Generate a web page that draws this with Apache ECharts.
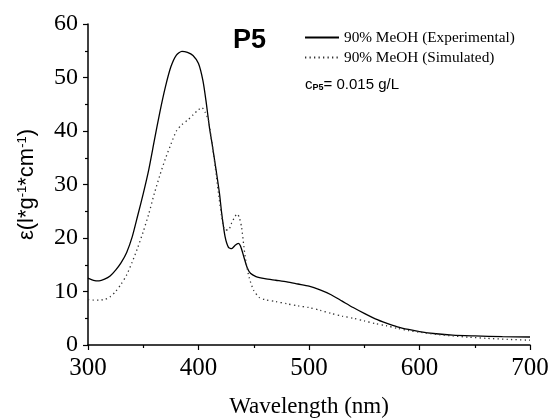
<!DOCTYPE html>
<html><head><meta charset="utf-8">
<script src="https://cdn.jsdelivr.net/npm/echarts@6/dist/echarts.min.js"></script>
<style>html,body{margin:0;padding:0;background:#fff}#c{width:553px;height:419px}</style>
</head><body><div id="c"></div>
<script>
const seriesNames = ['90% MeOH (Experimental)', '90% MeOH (Simulated)'];
const expX = [300,305,310,315,320,325,330,335,340,345,350,355,360,365,370,375,380,385,390,395,400,404,407,410,412,416,419,421,424,427,430,433,436,438,441,444,447,452,460,470,480,490,500,510,520,530,540,550,560,570,580,590,600,615,630,650,675,700];
const expY = [12.5,12.1,12.0,12.3,12.9,14.0,15.4,17.3,20.2,24.2,28.3,32.8,38.2,43.5,48.2,52.0,54.2,54.9,54.7,54.1,52.6,49.4,45.3,40.5,38.0,32.6,28.3,24.6,20.3,18.3,18.0,18.6,19.0,18.5,16.5,14.5,13.4,12.8,12.4,12.1,11.8,11.4,11.0,10.3,9.4,8.2,7.0,5.9,4.9,4.1,3.4,2.9,2.5,2.1,1.85,1.7,1.55,1.5];
const simX = [300,305,310,315,320,325,330,335,340,345,350,355,360,365,370,375,380,385,390,395,400,403,406,409,412,415,418,421,424,427,430,433,435,437,439,441,443,446,450,455,460,470,480,490,500,510,520,530,540,550,560,570,580,590,600,615,630,645,660,680,700];
const simY = [8.5,8.4,8.4,8.5,9.0,10.0,11.4,13.1,15.5,18.2,21.2,24.5,28.3,31.7,34.8,37.5,40.0,41.2,42.0,43.0,44.0,44.4,43.5,42.0,38.0,33.5,28.5,24.0,21.5,21.5,22.8,24.0,24.5,23.8,22.0,18.5,15.5,12.5,10.2,8.9,8.5,8.1,7.7,7.3,7.0,6.5,5.9,5.4,5.0,4.5,4.0,3.6,3.1,2.7,2.4,2.0,1.7,1.45,1.25,1.05,0.9];
const xTicks = [300,400,500,600,700];
const yTicks = [0,10,20,30,40,50,60];

const expData = expX.map((x,i)=>[x,expY[i]]);
const simData = simX.map((x,i)=>[x,simY[i]]);
const serif = '"Liberation Serif", "DejaVu Serif", serif';
const sans = '"Liberation Sans", Arial, sans-serif';

const chart = echarts.init(document.getElementById('c'));
chart.setOption({
  animation: false,
  backgroundColor: '#fff',
  grid: {left: 88, right: 23, top: 24, bottom: 74, containLabel: false, outerBoundsMode: 'none'},
  xAxis: {
    type: 'value', min: xTicks[0], max: xTicks[xTicks.length-1], interval: 100,
    name: 'Wavelength (nm)', nameLocation: 'middle', nameGap: 50,
    nameTextStyle: {fontFamily: serif, fontSize: 23, color: '#000'},
    axisLine: {show: true, onZero: false, lineStyle: {color: '#000', width: 1.5}},
    axisTick: {show: true, inside: false, length: 5, lineStyle: {color: '#000', width: 1.2}},
    minorTick: {show: true, splitNumber: 2, length: 3, lineStyle: {color: '#000', width: 1.2}},
    axisLabel: {fontFamily: serif, fontSize: 25, color: '#000', margin: 11},
    splitLine: {show: false}
  },
  yAxis: {
    type: 'value', min: yTicks[0], max: yTicks[yTicks.length-1], interval: 10,
    name: '{a|ε(l*g}{s|-1}{a|*cm}{s|-1}{a|)}', nameLocation: 'middle', nameGap: 50, nameRotate: 90,
    nameTextStyle: {rich: {
      a: {fontFamily: sans, fontSize: 22, color: '#000', verticalAlign: 'bottom'},
      s: {fontFamily: sans, fontSize: 13, color: '#000', verticalAlign: 'top'}
    }},
    axisLine: {show: true, lineStyle: {color: '#000', width: 1.5}},
    axisTick: {show: true, inside: false, length: 5, lineStyle: {color: '#000', width: 1.2}},
    minorTick: {show: true, splitNumber: 2, length: 3, lineStyle: {color: '#000', width: 1.2}},
    axisLabel: {fontFamily: serif, fontSize: 24, color: '#000', margin: 10},
    splitLine: {show: false}
  },
  legend: {
    orient: 'vertical', left: 299, top: 25, itemGap: 5, itemWidth: 34, itemHeight: 14,
    data: seriesNames,
    itemStyle: {opacity: 0},
    textStyle: {fontFamily: serif, fontSize: 15.3, color: '#000'}
  },
  graphic: [
    {type: 'text', left: 233, top: 27, style: {text: 'P5', font: 'bold 27px ' + sans, fill: '#000'}},
    {type: 'text', left: 305, top: 77, style: {
      text: '{c|c}{p|P5}{t|= 0.015 g/L}',
      rich: {
        c: {fontFamily: sans, fontSize: 15, fill: '#000', verticalAlign: 'top'},
        p: {fontFamily: sans, fontSize: 9, fontWeight: 'bold', fill: '#000', verticalAlign: 'bottom'},
        t: {fontFamily: sans, fontSize: 15, fill: '#000', verticalAlign: 'top'}
      }
    }}
  ],
  series: [
    {name: seriesNames[0], type: 'line', data: expData, symbol: 'none', smooth: 0.25,
     lineStyle: {color: '#000', width: 1.3, type: 'solid'}, itemStyle: {color: '#000'}},
    {name: seriesNames[1], type: 'line', data: simData, symbol: 'none', smooth: 0.25,
     lineStyle: {color: '#333', width: 1.3, type: [1.3, 3.2]}, itemStyle: {color: '#333'}}
  ]
});
</script></body></html>
